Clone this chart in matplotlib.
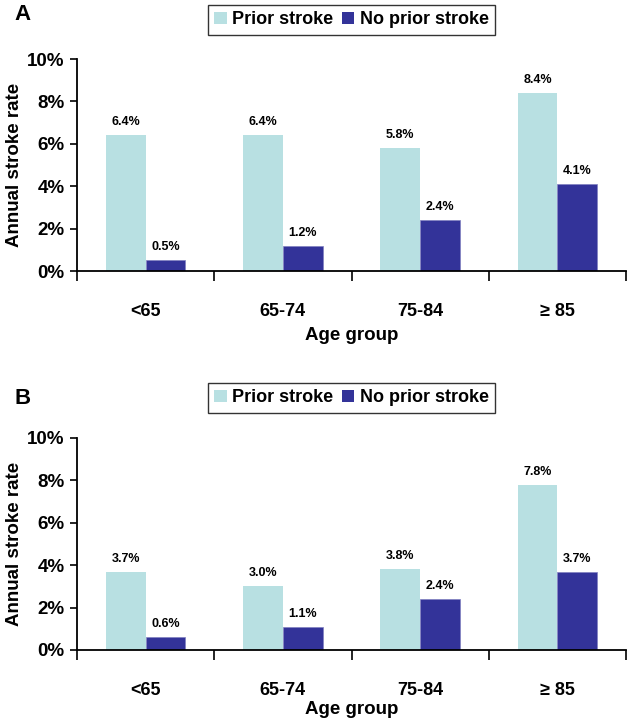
import matplotlib
matplotlib.use("Agg")
import matplotlib.pyplot as plt
import numpy as np
from matplotlib.patches import Patch

plt.rcParams['font.family'] = ['Liberation Sans', 'DejaVu Sans']
plt.rcParams['font.weight'] = 'bold'

categories = ["<65", "65-74", "75-84", "\u2265 85"]
a_prior = [6.4, 6.4, 5.8, 8.4]
a_noprior = [0.5, 1.2, 2.4, 4.1]
b_prior = [3.7, 3.0, 3.8, 7.8]
b_noprior = [0.6, 1.1, 2.4, 3.7]
yticks = [0, 2, 4, 6, 8, 10]
series_names = ["Prior stroke", "No prior stroke"]

LIGHT = "#B8E0E2"
DARK = "#333399"

fig = plt.figure(figsize=(6.27, 7.21), dpi=100)

W = 627.0
H = 721.0

def make_panel(prior, noprior, y0px, y10px, leg_top, letter, letter_y, xlab_y):
    left = 77 / W
    right = 626 / W
    bottom = 1 - y0px / H
    top = 1 - y10px / H
    ax = fig.add_axes([left, bottom, right - left, top - bottom])
    n = len(categories)
    centers = np.arange(n) + 0.5
    bw = 0.29
    ax.bar(centers - bw / 2, prior, width=bw, color=LIGHT, edgecolor='none')
    ax.bar(centers + bw / 2, noprior, width=bw, color=DARK, edgecolor='#8080c0', linewidth=0.5)
    for c, v in zip(centers - bw / 2, prior):
        ax.annotate(f"{v:.1f}%", (c, v), xytext=(0, 5), textcoords='offset points',
                    ha='center', va='bottom', fontsize=9, fontweight='bold')
    for c, v in zip(centers + bw / 2, noprior):
        ax.annotate(f"{v:.1f}%", (c, v), xytext=(0, 5), textcoords='offset points',
                    ha='center', va='bottom', fontsize=9, fontweight='bold')
    ax.set_xlim(0, n)
    ax.set_ylim(0, 10)
    ax.set_yticks(yticks)
    ax.set_yticklabels([f"{t}%" for t in yticks], fontsize=13.5, fontweight='bold')
    ax.set_xticks(np.arange(n + 1))
    ax.set_xticklabels([])
    ax.set_xticks(centers, minor=True)
    ax.set_xticklabels(categories, minor=True, fontsize=13, fontweight='bold')
    ax.tick_params(axis='x', which='major', length=7, width=1.2, direction='out')
    ax.tick_params(axis='x', which='minor', length=0, pad=23)
    ax.tick_params(axis='y', length=5, width=1.2, direction='out', pad=4)
    for s in ['top', 'right']:
        ax.spines[s].set_visible(False)
    for s in ['left', 'bottom']:
        ax.spines[s].set_linewidth(1.3)
    ax.set_xlabel("Age group", fontsize=13.5, fontweight='bold', va='center')
    ax.xaxis.set_label_coords(0.5, -(xlab_y - y0px) / (y0px - y10px))
    ax.set_ylabel("Annual stroke rate", fontsize=13.5, fontweight='bold', va='center')
    ax.yaxis.set_label_coords(-(77 - 15) / 549.0, 0.5)
    handles = [Patch(facecolor=LIGHT, edgecolor='none'), Patch(facecolor=DARK, edgecolor='none')]
    leg = fig.legend(handles, series_names, loc='upper center',
                     bbox_to_anchor=(351.5 / W, 1 - leg_top / H), ncol=2,
                     frameon=True, fancybox=False, fontsize=13,
                     handlelength=0.7, handleheight=0.7, handletextpad=0.3,
                     columnspacing=0.45, borderpad=0.35, borderaxespad=0)
    leg.get_frame().set_edgecolor('black')
    leg.get_frame().set_linewidth(1.0)
    for t in leg.get_texts():
        t.set_fontweight('bold')
    fig.text(14 / W, 1 - letter_y / H, letter, fontsize=16, fontweight='bold',
             ha='left', va='center')
    return ax

make_panel(a_prior, a_noprior, 271, 59, 5, "A", 15, 335)
make_panel(b_prior, b_noprior, 650, 438, 383, "B", 398, 709)

fig.savefig("out.png", dpi=100)
